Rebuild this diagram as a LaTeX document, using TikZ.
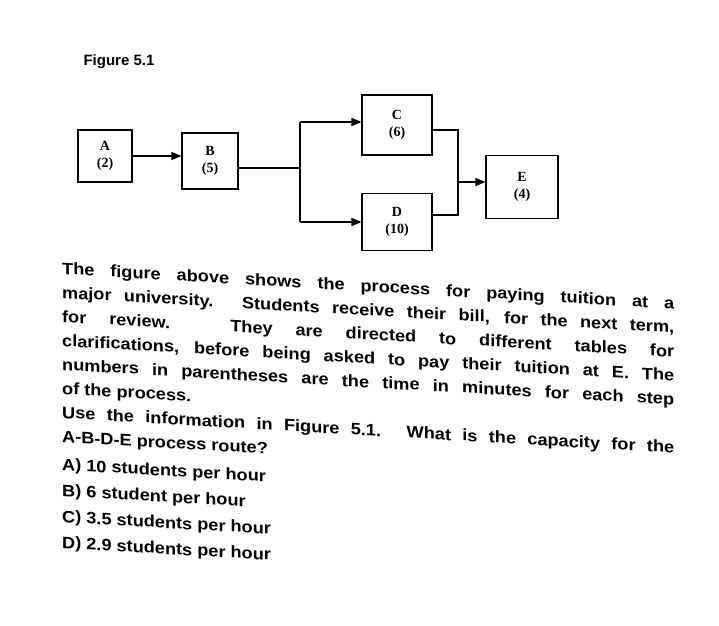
\documentclass[tikz,border=0pt]{standalone}
\usepackage{fontspec}
\setmainfont{Liberation Sans}
\newfontfamily\boxfont{Liberation Serif}
\newfontfamily\txtfont[FakeStretch=1.1]{Liberation Sans}
\usetikzlibrary{arrows.meta}
\begin{document}
\begin{tikzpicture}[x=1pt,y=-1pt,
  bx/.style={draw,line width=1.1pt,minimum width=55pt,minimum height=54pt,align=center,font=\boxfont\bfseries\fontsize{14}{17}\selectfont},
  ln/.style={line width=1.1pt},
  ar/.style={line width=1.1pt,-{Triangle[length=10pt,width=8pt]}}]
\useasboundingbox (0,0) rectangle (719,625);
\fill[white] (0,0) rectangle (719,625);
\node[anchor=west,font=\bfseries\fontsize{15}{18}\selectfont] (title) at (80,62) {Figure 5.1};
\node[bx,minimum width=54pt,minimum height=52pt] (A) at (105,156) {A\\(2)};
\node[bx,minimum width=56pt,minimum height=56pt] (B) at (210,161) {B\\(5)};
\node[bx,minimum width=70pt,minimum height=60pt] (C) at (397,125) {C\\(6)};
\node[bx,minimum width=70pt,minimum height=57pt] (D) at (397,222) {D\\(10)};
\node[bx,minimum width=72pt,minimum height=63pt] (E) at (522,187) {E\\(4)};
\coordinate (s) at (300,168);
\coordinate (st) at (300,122);
\coordinate (sb) at (300,222);
\coordinate (j) at (458,182);
\coordinate (jt) at (458,130);
\coordinate (jb) at (458,215);
\draw[ar] (A.east) -- (A.east -| B.west);
\draw[ln] (B.east |- s) -- (s);
\draw[ln] (st) -- (sb);
\draw[ar] (st) -- (st -| C.west);
\draw[ar] (sb) -- (sb -| D.west);
\draw[ln] (C.east |- jt) -- (jt) -- (jb) -- (jb -| D.east);
\draw[ar] (j) -- (j -| E.west);
\begin{scope}[shift={(62,262)}]
\begin{scope}[cm={1,-0.057,0,1,(0,0)}]
\node[transform shape,anchor=north west,text width=612pt,align=justify,inner sep=0pt,
  font=\txtfont\bfseries\fontsize{16.5}{24}\selectfont] (txt) at (0,0) {%
The figure above shows the process for paying tuition at a\linebreak
major university. Students receive their bill, for the next term,\linebreak
for review. They are directed to different tables for\linebreak
clarifications, before being asked to pay their tuition at E. The\linebreak
numbers in parentheses are the time in minutes for each step\linebreak
of the process.\\
Use the information in Figure 5.1. What is the capacity for the\linebreak
A-B-D-E process route?\\[4pt]
A) 10 students per hour\\[2pt]
B) 6 student per hour\\[2pt]
C) 3.5 students per hour\\[2pt]
D) 2.9 students per hour\par};
\end{scope}
\end{scope}
\end{tikzpicture}
\end{document}
